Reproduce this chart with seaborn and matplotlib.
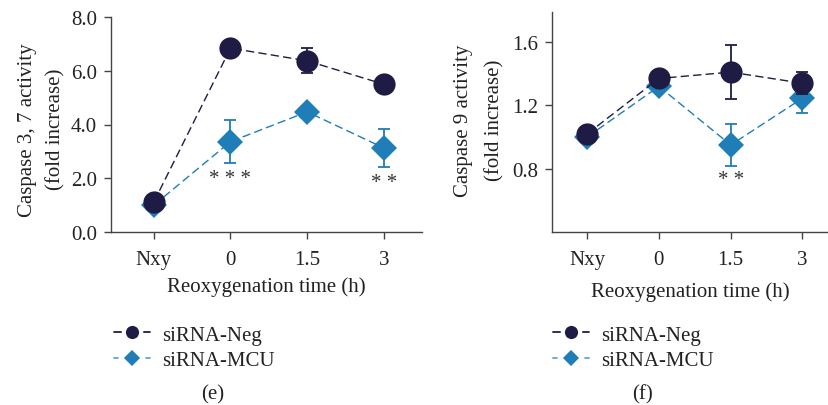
import matplotlib
matplotlib.use("Agg")
import matplotlib.pyplot as plt
import seaborn as sns
import pandas as pd
from matplotlib.lines import Line2D

sns.set_theme(style="ticks")
plt.rcParams['font.family'] = ['Liberation Serif', 'DejaVu Serif']

categories = ["Nxy", "0", "1.5", "3"]
series = ["siRNA-Neg", "siRNA-MCU"]

# Panel (e): Caspase 3, 7
e_neg = [1.12, 6.84, 6.37, 5.50]
e_neg_err = [0.0, 0.0, 0.47, 0.0]
e_mcu = [1.00, 3.36, 4.47, 3.13]
e_mcu_err = [0.0, 0.81, 0.0, 0.72]
e_stars = ["", "* * *", "", "* *"]

# Panel (f): Caspase 9
f_neg = [1.02, 1.37, 1.41, 1.34]
f_neg_err = [0.0, 0.0, 0.17, 0.07]
f_mcu = [1.00, 1.32, 0.95, 1.245]
f_mcu_err = [0.0, 0.0, 0.135, 0.09]
f_stars = ["", "", "* *", ""]

c_neg = "#1e1c45"
c_mcu = "#1f7db8"
c_mcu_leg = "#5aa6d6"
spine_c = "#444444"
txt_c = "#222222"
FS = 15

W, H = 829, 406
fig = plt.figure(figsize=(W / 100, H / 100), dpi=100)

def px_axes(l, r, t, b):
    return fig.add_axes([l / W, 1 - b / H, (r - l) / W, (b - t) / H])

ax1 = px_axes(111, 422, 18, 233)
ax2 = px_axes(552, 829, 13, 233)


def draw(ax, neg, neg_err, mcu, mcu_err, stars, star_off, xlabelpad):
    x = list(range(len(categories)))
    df = pd.DataFrame({"x": x * 2,
                       "y": neg + mcu,
                       "s": [series[0]] * 4 + [series[1]] * 4})
    sns.lineplot(data=df[df.s == series[0]], x="x", y="y", ax=ax, color=c_neg,
                 marker="o", markersize=16, linestyle=(0, (6, 3)), linewidth=1.0,
                 markeredgewidth=0, zorder=4, legend=False)
    sns.lineplot(data=df[df.s == series[1]], x="x", y="y", ax=ax, color=c_mcu,
                 marker="D", markersize=13.5, linestyle=(0, (6, 3)), linewidth=1.0,
                 markeredgewidth=0, zorder=3, legend=False)
    for xi, v, e in zip(x, mcu, mcu_err):
        if e > 0:
            ax.errorbar(xi, v, yerr=e, color=c_mcu, capsize=4.5, elinewidth=1.3,
                        capthick=1.3, fmt="none", zorder=2)
    for xi, v, e in zip(x, neg, neg_err):
        if e > 0:
            ax.errorbar(xi, v, yerr=e, color=c_neg, capsize=4.5, elinewidth=1.3,
                        capthick=1.3, fmt="none", zorder=3)
    for xi, v, e, s in zip(x, mcu, mcu_err, stars):
        if s:
            ax.text(xi, v - e - star_off, s, ha="center", va="top", fontsize=15,
                    color="#333333")
    ax.set_xticks(x)
    ax.set_xticklabels(categories)
    ax.set_xlabel("Reoxygenation time (h)", fontsize=FS, color=txt_c,
                  labelpad=xlabelpad)
    for sp in ["top", "right"]:
        ax.spines[sp].set_visible(False)
    for sp in ["left", "bottom"]:
        ax.spines[sp].set_color(spine_c)
        ax.spines[sp].set_linewidth(1.0)
    ax.tick_params(axis="both", colors=spine_c, labelcolor=txt_c, labelsize=FS,
                   length=5, width=1.0, direction="out")
    ax.tick_params(axis="x", pad=8)
    ax.tick_params(axis="y", pad=5)


draw(ax1, e_neg, e_neg_err, e_mcu, e_mcu_err, e_stars, 0.2, 5)
ax1.set_xlim(-0.56, 3.5)
ax1.set_ylim(0, 8)
ax1.set_yticks([0, 2, 4, 6, 8])
ax1.set_yticklabels(["0.0", "2.0", "4.0", "6.0", "8.0"])
ax1.set_ylabel("Caspase 3, 7 activity\n(fold increase)", fontsize=FS,
               color=txt_c, linespacing=1.6)
ax1.yaxis.set_label_coords((65 - 111) / 311, 0.48)

draw(ax2, f_neg, f_neg_err, f_mcu, f_mcu_err, f_stars, 0.025, 9)
ax2.set_xlim(-0.49, 3.37)
ax2.set_ylim(0.4, 1.79)
ax2.set_yticks([0.8, 1.2, 1.6])
ax2.set_yticklabels(["0.8", "1.2", "1.6"])
ax2.set_ylabel("Caspase 9 activity\n(fold increase)", fontsize=FS,
               color=txt_c, linespacing=1.8)
ax2.yaxis.set_label_coords((504 - 552) / 277, 0.51)

handles = [
    Line2D([], [], color=c_neg, marker="o", markersize=12.5, linestyle="-",
           linewidth=1.3, markeredgewidth=3, markeredgecolor="white",
           markerfacecolor=c_neg),
    Line2D([], [], color=c_mcu_leg, marker="D", markersize=11, linestyle="-",
           linewidth=1.3, markeredgewidth=3, markeredgecolor="white",
           markerfacecolor=c_mcu),
]
for lx in [114, 553]:
    fig.legend(handles, series, loc="upper left",
               bbox_to_anchor=(lx / W, 1 - 326 / H), frameon=False,
               fontsize=FS, handlelength=1.73, handletextpad=0.58,
               labelspacing=0.3, borderpad=0, borderaxespad=0,
               labelcolor=txt_c)

fig.text(213 / W, 1 - 395 / H, "(e)", ha="center", va="center", fontsize=FS,
         color=txt_c)
fig.text(643 / W, 1 - 395 / H, "(f)", ha="center", va="center", fontsize=FS,
         color=txt_c)

fig.savefig("out.png", dpi=100)
